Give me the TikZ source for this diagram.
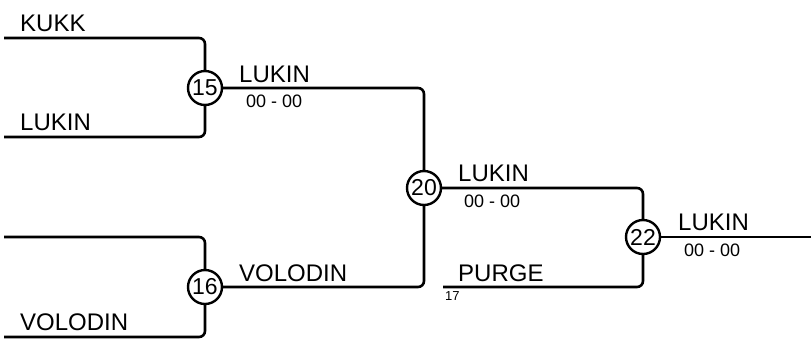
\documentclass[tikz,border=0pt]{standalone}
\usepackage{fontspec}
\setmainfont{Liberation Sans}
\usetikzlibrary{positioning, calc}

\begin{document}
\begin{tikzpicture}[
    x=1pt, y=-1pt,
    match/.style={circle, draw, line width=2.4pt, fill=white, minimum size=34pt, inner sep=0pt, font=\fontsize{23pt}{25pt}\selectfont},
    team/.style={anchor=base west, inner sep=0pt, font=\fontsize{24pt}{26pt}\selectfont},
    score/.style={anchor=base west, inner sep=0pt, font=\fontsize{18pt}{20pt}\selectfont},
    seed/.style={anchor=north west, inner sep=0pt, font=\fontsize{13pt}{14pt}\selectfont},
    bline/.style={line width=2.6pt, rounded corners=6pt},
]
    \useasboundingbox (0,0) rectangle (811,349);

    % matches
    \node[match] (m15) at (205,88) {15};
    \node[match] (m16) at (205,287) {16};
    \node[match] (m20) at (424,188) {20};
    \node[match] (m22) at (643,237) {22};

    % free line ends
    \coordinate (kukk) at (4,38);
    \coordinate (lukin) at (4,137);
    \coordinate (top16) at (4,237);
    \coordinate (volodin) at (4,337);
    \coordinate (purge) at (443,287);
    \coordinate (out) at (811,237);

    % names and scores
    \node[team] (t1) at (20,31) {KUKK};
    \node[team] (t2) at (20,130) {LUKIN};
    \node[team] (t4) at (20,330) {VOLODIN};
    \node[team] (w15) at (239,82) {LUKIN};
    \node[score] (s15) at (246,107) {00 - 00};
    \node[team] (w16) at (239,281) {VOLODIN};
    \node[team] (w20) at (458,181) {LUKIN};
    \node[score] (s20) at (464,207) {00 - 00};
    \node[team] (t5) at (458,281) {PURGE};
    \node[seed] (n17) at (445,291) {17};
    \node[team] (w22) at (678,230) {LUKIN};
    \node[score] (s22) at (684,256) {00 - 00};

    \draw[bline] (kukk) -| (m15);
    \draw[bline] (lukin) -| (m15);
    \draw[bline] (top16) -| (m16);
    \draw[bline] (volodin) -| (m16);
    \draw[bline] (m15) -| (m20);
    \draw[bline] (m16) -| (m20);
    \draw[bline] (m20) -| (m22);
    \draw[bline] (purge) -| (m22);
    \draw[bline] (m22) -- (out);
\end{tikzpicture}
\end{document}
